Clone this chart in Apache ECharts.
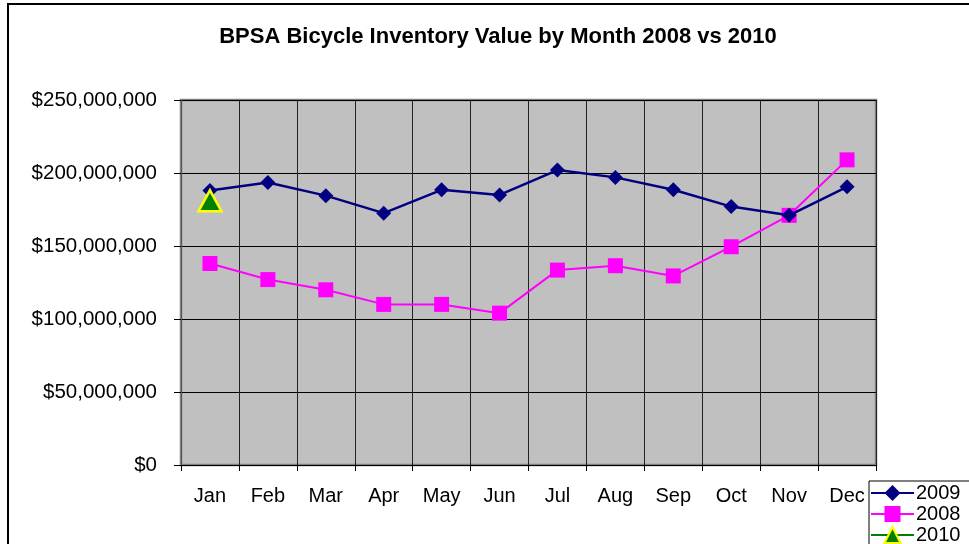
<!DOCTYPE html>
<html>
<head>
<meta charset="utf-8">
<script src="https://cdn.jsdelivr.net/npm/echarts@6/dist/echarts.min.js"></script>
<style>
html,body{margin:0;padding:0;background:#fff;}
#c{width:969px;height:544px;}
</style>
</head>
<body>
<div id="c"></div>
<script>
const months = ['Jan','Feb','Mar','Apr','May','Jun','Jul','Aug','Sep','Oct','Nov','Dec'];
const v2009 = [188000000,193500000,184500000,172500000,188500000,185000000,202000000,197000000,188500000,177000000,171000000,190500000];
const v2008 = [138000000,127000000,120000000,110000000,110000000,104000000,133500000,136500000,129500000,149500000,171000000,209000000];
const v2010 = [181000000,null,null,null,null,null,null,null,null,null,null,null];
const yTicks = {min:0, max:250000000, interval:50000000};

const FONT = '"Liberation Sans", Arial, sans-serif';
function money(v){
  return '$' + String(Math.round(v)).replace(/\B(?=(\d{3})+(?!\d))/g, ',');
}

const chart = echarts.init(document.getElementById('c'), null, {renderer:'canvas'});
chart.setOption({
  backgroundColor:'#ffffff',
  animation:false,
  title:{
    text:'BPSA Bicycle Inventory Value by Month 2008 vs 2010',
    left:493, top:21, textAlign:'center',
    textStyle:{fontFamily:FONT, fontSize:22, fontWeight:'bold', color:'#000'}
  },
  graphic:[{
    type:'rect', z:-10,
    shape:{x:8, y:4, width:980, height:560},
    style:{fill:'#ffffff', stroke:'#000', lineWidth:2}
  }],
  grid:{left:181, right:93, top:100, bottom:79, show:true, backgroundColor:'#C0C0C0', borderColor:'#808080', borderWidth:2.5},
  xAxis:{
    type:'category', data:months, boundaryGap:true,
    axisLine:{show:true, lineStyle:{color:'#000', width:1}},
    axisTick:{show:true, length:6, alignWithLabel:false, lineStyle:{color:'#000'}},
    axisLabel:{fontFamily:FONT, fontSize:20, color:'#000', margin:21},
    splitLine:{show:true, lineStyle:{color:'#222', width:1}}
  },
  yAxis:{
    type:'value', min:yTicks.min, max:yTicks.max, interval:yTicks.interval,
    axisLine:{show:true, lineStyle:{color:'#555', width:1}},
    axisTick:{show:true, length:7, lineStyle:{color:'#000'}},
    axisLabel:{fontFamily:FONT, fontSize:20.5, color:'#000', margin:24, formatter:money},
    splitLine:{show:true, lineStyle:{color:'#000', width:1}}
  },
  legend:{
    orient:'vertical', left:869, top:481, height:90, width:120,
    backgroundColor:'#fff', borderColor:'#000', borderWidth:1,
    padding:[2,10,2,1], itemWidth:43, itemHeight:20, itemGap:1,
    textStyle:{fontFamily:FONT, fontSize:20, color:'#000', lineHeight:20, padding:[0,0,0,-3]},
    data:['2009','2008','2010']
  },
  series:[
    {name:'2009', type:'line', data:v2009, symbol:'diamond', symbolSize:15,
     lineStyle:{color:'#000080', width:2.5}, itemStyle:{color:'#000080'}, z:3},
    {name:'2008', type:'line', data:v2008, symbol:'rect', symbolSize:15,
     lineStyle:{color:'#FF00FF', width:2}, itemStyle:{color:'#FF00FF'}, z:2},
    {name:'2010', type:'line', data:v2010, symbol:'triangle', symbolSize:[23,21], connectNulls:false,
     lineStyle:{color:'#008000', width:2}, itemStyle:{color:'#008000', borderColor:'#FFFF00', borderWidth:2.5}, z:4}
  ]
});
</script>
</body>
</html>
